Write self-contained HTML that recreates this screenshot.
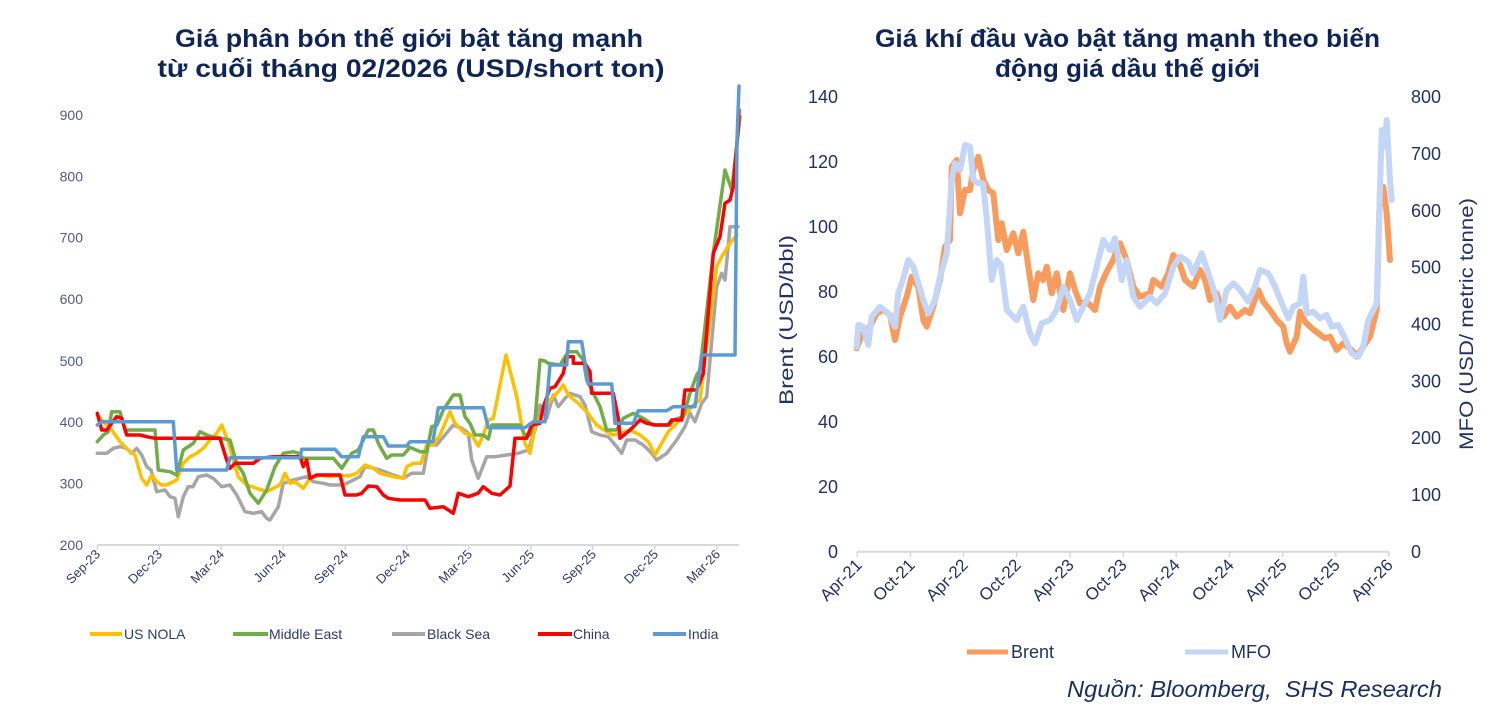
<!DOCTYPE html>
<html>
<head>
<meta charset="utf-8">
<style>
html,body{margin:0;padding:0;background:#fff;}
svg{display:block;}
text{font-family:"Liberation Sans","DejaVu Sans",sans-serif;}
</style>
</head>
<body>
<svg width="1492" height="722" viewBox="0 0 1492 722" xmlns="http://www.w3.org/2000/svg">
<rect width="1492" height="722" fill="#fff"/>

<!-- Titles -->
<g font-weight="bold" font-size="25" fill="#0f2557" text-anchor="middle">
  <text x="409" y="47" textLength="468" lengthAdjust="spacingAndGlyphs">Giá phân bón thế giới bật tăng mạnh</text>
  <text x="411" y="77" textLength="507" lengthAdjust="spacingAndGlyphs">từ cuối tháng 02/2026 (USD/short ton)</text>
  <text x="1127.5" y="47" textLength="505" lengthAdjust="spacingAndGlyphs">Giá khí đầu vào bật tăng mạnh theo biến</text>
  <text x="1127.5" y="77" textLength="265" lengthAdjust="spacingAndGlyphs">động giá dầu thế giới</text>
</g>

<!-- LEFT CHART -->
<g font-size="14" fill="#4f5b85" text-anchor="end">
  <text x="83" y="550">200</text>
  <text x="83" y="488.3">300</text>
  <text x="83" y="427">400</text>
  <text x="83" y="366">500</text>
  <text x="83" y="304">600</text>
  <text x="83" y="242.7">700</text>
  <text x="83" y="181.7">800</text>
  <text x="83" y="120">900</text>
</g>
<line x1="97" y1="545" x2="739" y2="545" stroke="#d9d9d9" stroke-width="2"/>
<g stroke="#d9d9d9" stroke-width="1.5">
  <line x1="97.3" y1="545" x2="97.3" y2="550"/>
  <line x1="159.2" y1="545" x2="159.2" y2="550"/>
  <line x1="221.2" y1="545" x2="221.2" y2="550"/>
  <line x1="283.1" y1="545" x2="283.1" y2="550"/>
  <line x1="345.1" y1="545" x2="345.1" y2="550"/>
  <line x1="407" y1="545" x2="407" y2="550"/>
  <line x1="468.9" y1="545" x2="468.9" y2="550"/>
  <line x1="530.9" y1="545" x2="530.9" y2="550"/>
  <line x1="592.8" y1="545" x2="592.8" y2="550"/>
  <line x1="654.8" y1="545" x2="654.8" y2="550"/>
  <line x1="716.7" y1="545" x2="716.7" y2="550"/>
</g>
<g font-size="13" fill="#2d3b6e" text-anchor="end">
  <text transform="translate(101,555) rotate(-45)">Sep-23</text>
  <text transform="translate(163,555) rotate(-45)">Dec-23</text>
  <text transform="translate(225,555) rotate(-45)">Mar-24</text>
  <text transform="translate(287,555) rotate(-45)">Jun-24</text>
  <text transform="translate(349,555) rotate(-45)">Sep-24</text>
  <text transform="translate(411,555) rotate(-45)">Dec-24</text>
  <text transform="translate(473,555) rotate(-45)">Mar-25</text>
  <text transform="translate(535,555) rotate(-45)">Jun-25</text>
  <text transform="translate(597,555) rotate(-45)">Sep-25</text>
  <text transform="translate(659,555) rotate(-45)">Dec-25</text>
  <text transform="translate(721,555) rotate(-45)">Mar-26</text>
</g>

<g fill="none" stroke-width="3.5" stroke-linejoin="round" stroke-linecap="round">
<!-- Black Sea -->
<polyline stroke="#a6a6a6" points="97.3,453.3 106.7,453.3 113.3,448.3 120,446.7 126,448 131.7,453.3 136.7,448.3 141.7,455 146.7,466.7 151,470 156.7,491.7 165,490 170,496.7 175,498.3 178.3,516.7 183.3,496.7 188.3,486.7 193,486.7 198.3,476.7 206.7,475 213.3,478.3 221.7,486.7 230,485 236.7,495 245,511.7 253.3,513.3 261.7,511.7 266.7,518.3 270,520 278.3,506.7 283.3,483.3 293.3,480 300,478.3 306.7,476.7 313.3,481.7 323.3,483.3 330,485 343.3,485 350,481.7 360,476.7 365,466.7 373,468 380,470 393.3,475 403.3,478.3 411.7,473.3 423.3,473.3 428.3,445 436.7,445 445,435 453.3,425 461.7,428.3 468.3,433.3 471.7,460 478.3,478.3 486.7,456.7 495,456.7 506.7,455 518.3,453.3 528.3,450 535,430 540,405 546.7,418.3 553.3,395 558.3,406.7 565,398.3 570,393.3 580,396.7 585,405 591.7,431.7 600,435 608.3,436.7 616.7,446.7 621.7,453.3 626.7,440 635,440 643.3,445 651.7,453.3 656.7,460 666.7,453.3 676.7,440 685,426.7 690,413.3 695,421.7 701.7,403.3 706.7,396.7 710,360 716.7,286.7 721.7,273.3 725,280 730,226.7 738,226.7"/>
<!-- US NOLA -->
<polyline stroke="#ffc000" points="97.3,415 103.3,421.7 111.7,430 120,441.7 128.3,450 135,455 141.7,478.3 146.7,485 151.7,475 156.7,481.7 161.7,485 166.7,485 176.7,480 183.3,463.3 190,456.7 196.7,453.3 203.3,448.3 210,440 216.7,433.3 221.7,425 228.3,441.7 233.3,460 238.3,476.7 246.7,485 256.7,488.3 266.7,491.7 273.3,488.3 280,485 285,473.3 290,483.3 295,481.7 303.3,488.3 310,478.3 320,475 330,476.7 340,475 348.3,476 356.7,473.3 365,465 373.3,468.3 380,473.3 393.3,476.7 403.3,478.3 406.7,466.7 413.3,463.3 421,463.3 426.7,445 433.3,445 440,435 450,411.7 455,423.3 465,433.3 471.7,435 478.3,446 483.3,435 488.3,420 493.3,418.3 506,355 516.7,396.7 525,443.3 530,453.3 535,426.7 541.7,415 550,400 558.3,391.7 563.3,385 568.3,395 578.3,403.3 586.7,411.7 596.7,425 606.7,431.7 613.3,435 620,433.3 630,430 640,435 648.3,441.7 655,455 661.7,443.3 668.3,431.7 675,425 683.3,416.7 693.3,405 700,400 703.3,373.3 716.7,266.7 721.7,256.7 730,243.3 737,235"/>
<!-- Middle East -->
<polyline stroke="#70ad47" points="97.3,441.7 103.3,435 108.3,431.7 111.7,411.7 120,411.7 125,430 155,430 158.3,470 170,471.7 176.7,475 183.3,450 193.3,443.3 200,431.7 206.7,435 213,437 221.7,438.3 230,440 236.7,463.3 243.3,473.3 250,493.3 258.3,503.3 266.7,490 275,466.7 283.3,453.3 293.3,451.7 298,453 303.3,458.3 333.3,458.3 341.7,468.3 351.7,453.3 358.3,450 368.3,430 373.3,430 378.3,443.3 386.7,458.3 391.7,455 403.3,455 410,447.3 420,451.7 426.7,451.7 431.7,426.7 437,425 443.3,410 453.3,395 460,395 465,416.7 470,423.3 475,435 483.3,435 488.3,439 491.7,425 520,425 525,435 530,435 535,420 540,360 545,361 548.3,363.3 560,365 568.3,351.7 576.7,351.7 583.3,360 586.7,380 600,406.7 606.7,430 616.7,430 623.3,418.3 633.3,413.3 643.3,418.3 653.3,425 670,425 673.3,420 683.3,416.7 690,393.3 696.7,375 700,370 713.3,253.3 725,170 731.7,190 736.7,146.7 740,116.7"/>
<!-- China -->
<polyline stroke="#ff0000" points="97.3,413.3 101.7,430 106.7,430 116.7,416.7 121.7,418.3 126.7,435 140,435 146.7,436.7 155,438.3 220,438.3 226.7,460 230,468.3 235,463.3 253.3,463.3 260,458.3 273.3,456.7 300,456.7 303.3,466.7 306.7,460 310,478.3 316.7,475 340,475 345,495 356.7,495 361.7,493.3 368.3,486 376.7,486.7 383.3,495 388.3,498.3 400,500 425,500 430,508.3 443.3,506.7 453.3,513.3 458.3,493.3 468.3,496.7 478,493.3 483.3,486.7 491.7,493.3 500,495 510,486 515,438.3 526.7,438.3 531.7,425 540,423.3 543.3,406.7 550,388.3 555,386.7 563.3,373.3 566.7,356.7 573.3,356.7 573.3,363.3 585,363.3 590,371.7 591.7,393.3 613.3,393.3 618.3,418.3 620,438.3 630,430 640,420 646.7,423.3 655,425 668.3,425 671.7,420 681.7,420 685,390 696.7,390 703.3,373.3 713.3,253.3 720,236.7 725,203.3 730,200 733.3,186.7 738.3,126.7 739,110"/>
<!-- India -->
<polyline stroke="#5b9bd5" points="97.3,425 101.7,421.7 173.3,421.7 176.7,470 226.7,470 230,457.7 300,457.7 301.7,449.3 335,449.3 341.7,456.7 358.3,456.7 363.3,436.7 383.3,436.7 388.3,446 406.7,446 410,441.7 433,441.7 438.3,407.7 483.3,407.7 488.3,427.7 525,427.7 533.3,421.7 545,421.7 550,365 566.7,365 568.3,341.7 581.7,341.7 588.3,384 611.7,384 615,423.3 633.3,423.3 638.3,410.7 666.7,410.7 673.3,406.7 695,406.7 701.7,355 735,355 737,140 739,86"/>
</g>

<!-- Left legend -->
<g stroke-width="4">
  <line x1="90" y1="634" x2="122" y2="634" stroke="#ffc000"/>
  <line x1="233" y1="634" x2="268" y2="634" stroke="#70ad47"/>
  <line x1="392" y1="634" x2="425" y2="634" stroke="#a6a6a6"/>
  <line x1="538" y1="634" x2="572" y2="634" stroke="#ff0000"/>
  <line x1="653" y1="634" x2="686" y2="634" stroke="#5b9bd5"/>
</g>
<g font-size="14" fill="#2d3b6e">
  <text x="124" y="639">US NOLA</text>
  <text x="269" y="639">Middle East</text>
  <text x="427" y="639">Black Sea</text>
  <text x="573" y="639">China</text>
  <text x="688" y="639">India</text>
</g>

<!-- RIGHT CHART -->
<g font-size="18" fill="#233266" text-anchor="end">
  <text x="838" y="558">0</text>
  <text x="838" y="493">20</text>
  <text x="838" y="428">40</text>
  <text x="838" y="363">60</text>
  <text x="838" y="298">80</text>
  <text x="838" y="233">100</text>
  <text x="838" y="168">120</text>
  <text x="838" y="103">140</text>
</g>
<g font-size="18" fill="#233266" text-anchor="start">
  <text x="1411" y="558">0</text>
  <text x="1411" y="501.1">100</text>
  <text x="1411" y="444.2">200</text>
  <text x="1411" y="387.4">300</text>
  <text x="1411" y="330.5">400</text>
  <text x="1411" y="273.6">500</text>
  <text x="1411" y="216.8">600</text>
  <text x="1411" y="159.9">700</text>
  <text x="1411" y="103">800</text>
</g>
<text transform="translate(793,320) rotate(-90)" text-anchor="middle" font-size="19" fill="#233266" textLength="170" lengthAdjust="spacingAndGlyphs">Brent (USD/bbl)</text>
<text transform="translate(1473,324) rotate(-90)" text-anchor="middle" font-size="19" fill="#233266" textLength="252" lengthAdjust="spacingAndGlyphs">MFO (USD/ metric tonne)</text>

<line x1="857" y1="551.7" x2="1389" y2="551.7" stroke="#d9d9d9" stroke-width="2"/>
<g stroke="#d9d9d9" stroke-width="1.5">
  <line x1="857.3" y1="551.7" x2="857.3" y2="557"/>
  <line x1="910.5" y1="551.7" x2="910.5" y2="557"/>
  <line x1="963.6" y1="551.7" x2="963.6" y2="557"/>
  <line x1="1016.8" y1="551.7" x2="1016.8" y2="557"/>
  <line x1="1070" y1="551.7" x2="1070" y2="557"/>
  <line x1="1123.2" y1="551.7" x2="1123.2" y2="557"/>
  <line x1="1176.3" y1="551.7" x2="1176.3" y2="557"/>
  <line x1="1229.5" y1="551.7" x2="1229.5" y2="557"/>
  <line x1="1282.7" y1="551.7" x2="1282.7" y2="557"/>
  <line x1="1335.8" y1="551.7" x2="1335.8" y2="557"/>
  <line x1="1389" y1="551.7" x2="1389" y2="557"/>
</g>
<g font-size="17" fill="#233266" text-anchor="end">
  <text transform="translate(863,566) rotate(-45)">Apr-21</text>
  <text transform="translate(916,566) rotate(-45)">Oct-21</text>
  <text transform="translate(969,566) rotate(-45)">Apr-22</text>
  <text transform="translate(1022,566) rotate(-45)">Oct-22</text>
  <text transform="translate(1075,566) rotate(-45)">Apr-23</text>
  <text transform="translate(1128,566) rotate(-45)">Oct-23</text>
  <text transform="translate(1181,566) rotate(-45)">Apr-24</text>
  <text transform="translate(1235,566) rotate(-45)">Oct-24</text>
  <text transform="translate(1288,566) rotate(-45)">Apr-25</text>
  <text transform="translate(1341,566) rotate(-45)">Oct-25</text>
  <text transform="translate(1394,566) rotate(-45)">Apr-26</text>
</g>

<g fill="none" stroke-width="6" stroke-linejoin="round" stroke-linecap="round">
<!-- Brent -->
<polyline stroke="#f99b5d" points="856.7,348.3 861.7,335 870,326.7 876.7,313.3 883.3,310 890,315 895,340 900,316.7 906.7,296.7 911.7,276.7 918.3,286.7 923.3,320 926.7,326.7 933.3,306.7 940,280 945,246.7 950,240 951.7,166.7 956.7,160 960,213.3 965,190 970,190 973.3,170 978.3,156.7 983.3,180 988.3,190 993.3,193.3 998.3,240 1001.7,223.3 1006.7,250 1013.3,233.3 1018.3,253.3 1023.3,231.7 1028.3,266.7 1033.3,300 1038.3,273.3 1043,280 1046.7,266.7 1051.7,293.3 1056.7,273.3 1063.3,310 1070,273.3 1075,290 1080,303.3 1087,302 1095,310 1100,286.7 1106.7,271.7 1113.3,260 1116.7,250 1120,243.3 1126.7,260 1133.3,286.7 1140,296.7 1150,293.3 1153.3,280 1161.7,286.7 1168.3,273.3 1173.3,255 1180,265 1185,280 1193.3,286.7 1200,270 1205,280 1210,300 1216.7,293.3 1223.3,316.7 1230,306.7 1236.7,316.7 1245,310 1250,313.3 1258.3,290 1263.3,301.7 1270,310 1276.7,320 1283.3,326.7 1286.7,343.3 1290,351.7 1296.7,336.7 1300,311.7 1305,321.7 1311.7,328.3 1318.3,333.3 1325,338.3 1330,336.7 1336.7,350 1343.3,343.3 1351.7,350 1356.7,356.7 1363.3,346.7 1370,336.7 1376.7,310 1380,190 1383.3,186.7 1386.7,213.3 1390,260"/>
<!-- MFO -->
<polyline stroke="#c3d6f7" points="856.7,346.7 858.3,325 863.3,326.7 868.3,345 871.7,316.7 880,306.7 888.3,313.3 895,326.7 898.3,293.3 903.3,278.3 908.3,260 913.3,266.7 918.3,283.3 923.3,300 928.3,313.3 935,300 940,276.7 946.7,253.3 951.7,180 955,163.3 960,170 965,145 970,146.7 973.3,180 978.3,183.3 983,183.3 986.7,218 991.7,280 996.7,260 1001,265 1006.7,310 1016.7,320 1023.3,306.7 1030,333.3 1035,343.3 1041.7,323.3 1050,320 1056.7,310 1063.3,286.7 1070,300 1076.7,320 1083.3,306.7 1090,293.3 1096.7,266.7 1103.3,240 1110,250 1115,238.3 1121.7,280 1126.7,260 1133.3,296.7 1140,306.7 1150,296.7 1156.7,303.3 1165,293.3 1173.3,266.7 1180,256.7 1188.3,261.7 1193.3,273.3 1201.7,253.3 1208.3,273.3 1215,293.3 1220,320 1226.7,290 1233.3,283.3 1240,290 1248.3,301.7 1255,286.7 1260,270 1268.3,273.3 1275,286.7 1281.7,303.3 1288.3,318.3 1293.3,306.7 1300,303.3 1303.3,276.7 1306.7,313.3 1313.3,311.7 1320,318.3 1326.7,315 1331.7,326.7 1338.3,325 1345,338.3 1351.7,353.3 1358.3,356.7 1363.3,346.7 1368.3,320 1376.7,303.3 1378.3,246.7 1381.7,130 1385,146.7 1386.7,120 1390,180 1391.7,200"/>
</g>

<!-- Right legend -->
<line x1="967" y1="652" x2="1008" y2="652" stroke="#f99b5d" stroke-width="5"/>
<line x1="1185" y1="652" x2="1228" y2="652" stroke="#c3d6f7" stroke-width="5"/>
<g font-size="18" fill="#233266">
  <text x="1011" y="658">Brent</text>
  <text x="1231" y="658">MFO</text>
</g>

<!-- Source -->
<text x="1442" y="697" text-anchor="end" font-size="23" font-style="italic" fill="#1b2e62" textLength="375" lengthAdjust="spacingAndGlyphs">Nguồn: Bloomberg,&#160; SHS Research</text>
</svg>
</body>
</html>
